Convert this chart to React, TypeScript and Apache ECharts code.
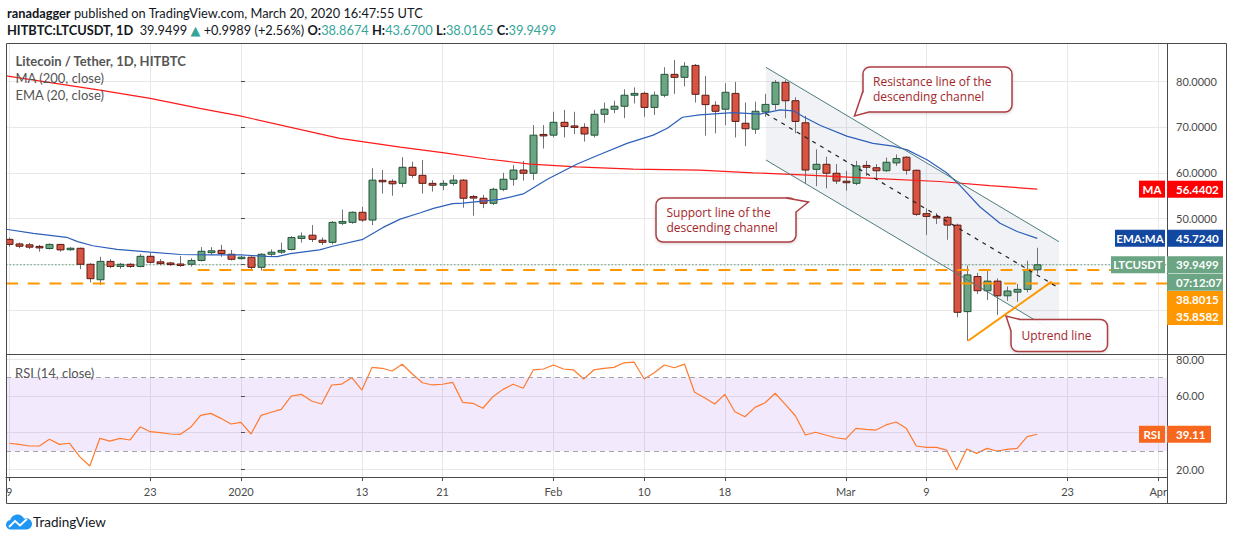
import React, { useEffect, useRef } from "react";
import * as echarts from "echarts";

const FONT = "Lato, 'Noto Sans', 'DejaVu Sans', sans-serif";
const CALLOUT_FONT = "'Open Sans', 'Noto Sans', sans-serif";

// ---------- data ----------
const candleStartDate = "2019-12-09"; // consecutive daily candles from this date
const opens = [
  45.5, 44.5, 44.3, 43.85, 43.5, 44.4, 43.25, 43.55, 40.07, 36.7, 40.7, 39.6, 40.07, 39.6, 41.8, 40.6, 40.35, 40.07, 40.07, 40.9, 42.6, 43.1, 42.25,
  41.3, 41.6, 39.4, 42.25, 42.7, 43.3, 45.7, 46.4, 45.3, 44.85, 49.0, 49.2, 51.4, 49.7, 58.3, 58.15, 57.7, 61.2, 59.45, 57.7, 57.3, 57.7, 58.4, 54.7,
  54.45, 53.35, 56.4, 58.6, 60.6, 59.9, 68.3, 68.2, 71.0, 70.2, 69.9, 68.2, 72.75, 73.85, 74.5, 76.9, 77.3, 74.25, 76.9, 81.45, 80.8, 83.4, 76.9,
  74.7, 73.85, 77.3, 70.8, 69.5, 73.25, 74.9, 79.7, 75.7, 70.9, 60.75, 61.85, 59.9, 58.1, 57.7, 61.6, 61.1, 60.45, 62.15, 63.4, 60.55, 51.1, 50.5,
  50.3, 48.6, 29.75, 37.4, 34.3, 36.4, 33.2, 34.0, 34.6, 38.8674,
];
const closes = [
  44.4, 44.0, 43.8, 43.75, 44.4, 43.2, 43.55, 40.07, 36.93, 40.7, 39.6, 40.07, 39.6, 41.8, 40.5, 40.2, 40.0, 39.85, 40.9, 42.9, 43.0, 42.4, 41.15,
  41.6, 39.4, 42.25, 42.7, 43.1, 45.9, 46.2, 45.5, 44.85, 49.2, 49.4, 51.4, 49.7, 58.4, 58.1, 57.6, 61.2, 59.45, 57.7, 57.3, 57.7, 58.4, 54.45, 54.6,
  53.35, 56.4, 58.6, 60.6, 59.9, 68.2, 68.1, 71.0, 70.1, 69.9, 68.45, 72.75, 73.85, 74.5, 76.9, 77.3, 74.25, 76.9, 81.45, 80.8, 83.2, 77.1, 74.85,
  73.4, 77.55, 71.2, 69.6, 73.4, 74.9, 79.7, 75.7, 71.2, 60.6, 61.85, 59.9, 58.2, 57.9, 61.5, 61.2, 60.45, 62.3, 63.1, 60.55, 50.95, 50.5, 50.15,
  48.6, 29.6, 37.75, 34.3, 36.4, 33.2, 34.25, 34.6, 38.95, 39.9499,
];
const lows = [
  43.9, 43.55, 43.4, 42.8, 43.3, 42.8, 43.0, 39.0, 36.1, 35.55, 39.2, 39.1, 39.3, 39.4, 40.2, 39.85, 39.7, 39.5, 39.55, 40.7, 42.1, 41.7, 40.9,
  41.1, 38.97, 38.7, 41.8, 42.3, 43.1, 44.8, 44.9, 44.3, 44.4, 48.6, 48.9, 49.3, 48.6, 55.5, 55.0, 56.85, 58.9, 55.5, 55.9, 56.2, 57.2, 52.4, 50.65,
  52.3, 53.0, 56.0, 57.2, 58.3, 58.4, 65.3, 67.7, 67.7, 68.45, 66.8, 67.7, 70.9, 73.0, 71.9, 75.1, 72.2, 72.6, 76.45, 77.2, 78.8, 75.3, 68.1, 68.6,
  70.4, 67.7, 65.8, 68.45, 72.2, 73.7, 71.9, 68.6, 57.55, 57.1, 56.6, 57.55, 56.1, 57.3, 59.3, 58.6, 60.2, 61.5, 59.6, 50.6, 46.45, 48.85, 45.4,
  28.5, 23.4, 33.6, 32.3, 29.0, 32.1, 31.9, 33.95, 38.0165,
];
const highs = [
  45.9, 44.8, 44.7, 44.3, 44.6, 44.5, 43.8, 43.7, 40.3, 41.7, 41.2, 40.35, 40.3, 42.3, 42.7, 41.2, 40.6, 41.9, 41.4, 43.8, 43.8, 44.3, 43.2,
  41.9, 41.8, 42.45, 43.3, 44.8, 46.2, 47.0, 48.6, 45.9, 49.5, 52.0, 51.6, 52.6, 61.0, 60.6, 58.6, 63.4, 62.4, 62.8, 58.4, 58.4, 59.5, 58.6, 55.2,
  55.2, 56.75, 60.0, 61.7, 62.6, 70.4, 70.4, 73.3, 73.7, 73.3, 70.8, 73.7, 75.3, 75.7, 78.2, 78.6, 77.7, 77.7, 83.0, 84.6, 84.1, 83.7, 81.1, 75.6,
  79.5, 79.8, 75.3, 75.5, 77.2, 80.2, 80.2, 76.45, 72.4, 65.1, 63.5, 61.9, 60.45, 62.6, 62.6, 61.9, 63.3, 64.0, 63.6, 60.7, 52.25, 51.2, 50.6, 48.9,
  39.8, 38.2, 38.7, 37.0, 35.2, 35.8, 40.85, 43.67,
];

// indicator lines: [days since 2020-01-01, value]
const emaPoints: [number, number][] = [
  [-23.3, 47.7], [-20.6, 46.8], [-17.3, 45.95], [-16.2, 45.0], [-14.7, 44.1], [-12.3, 43.3], [-9, 42.7], [-6, 42.2], [-3, 42.1], [0, 42.1],
  [2.6, 41.8], [3.6, 41.75], [4.9, 42.4], [7.8, 43.2], [9.1, 44.0], [12.1, 45.5], [14.1, 48.1], [15.8, 49.9], [17.8, 51.3], [19.1, 52.25],
  [21, 53.3], [22, 53.4], [25.7, 54.2], [28, 55.4], [30.4, 58.6], [33.3, 61.85], [35.6, 64.0], [38.3, 66.4], [40.9, 68.2], [42.3, 69.7],
  [43.8, 72.1], [45.5, 72.6], [48.8, 73.1], [51.5, 72.8], [53.5, 73.7], [54.8, 73.5], [55.8, 72.2], [57.5, 70.3], [60.1, 68.0], [62.7, 66.4],
  [64.7, 65.8], [66.1, 65.0], [68.1, 62.8], [70, 60.0], [71.3, 57.3], [73.3, 52.6], [75.3, 49.0], [77, 47.2], [79, 45.724],
];
const maPoints: [number, number][] = [
  [-23.3, 81.1], [-14, 78.0], [-9, 76.2], [-4.1, 74.05], [-0.1, 72.4], [9.8, 67.5], [15.8, 65.6], [20, 64.4], [24.4, 63.0], [28.7, 61.9],
  [33.3, 61.3], [38.9, 60.8], [45.5, 60.6], [50.8, 60.0], [56.2, 59.5], [62.7, 58.8], [69.3, 58.1], [74.3, 57.2], [79, 56.4402],
];
// RSI, one value per candle
const rsiValues = [
  34.2, 33.6, 32.7, 32.7, 36.4, 33.6, 34.2, 26.9, 21.8, 36.9, 35.4, 36.9, 36.0, 43.2, 40.5, 40.0, 39.25, 39.1, 42.9, 49.4, 50.5, 47.8, 44.7,
  45.6, 39.25, 49.4, 51.1, 52.7, 60.0, 60.9, 57.25, 55.6, 66.0, 66.5, 70.0, 63.25, 75.6, 75.1, 73.6, 77.3, 72.0, 67.2, 66.0, 66.4, 67.45, 56.5,
  56.0, 53.3, 59.6, 63.6, 66.4, 64.2, 74.2, 74.7, 76.9, 74.7, 74.2, 69.25, 74.2, 75.1, 75.6, 78.1, 78.5, 69.25, 72.7, 76.9, 75.4, 77.4, 62.0,
  59.05, 55.6, 60.9, 51.4, 48.7, 53.8, 56.3, 61.5, 55.45, 49.2, 38.7, 40.2, 38.7, 37.2, 36.5, 42.35, 41.8, 41.4, 44.2, 45.8, 42.35, 32.7, 32.0,
  32.0, 30.5, 19.6, 31.1, 28.7, 31.4, 30.0, 30.9, 31.4, 37.8, 39.11,
];

const tickDays = [-23, -9, 0, 12, 20, 31, 40, 48, 60, 68, 82, 91];
const tickLabels = ["9", "23", "2020", "13", "21", "Feb", "10", "18", "Mar", "9", "23", "Apr"];
const priceTicks = [30, 40, 50, 60, 70, 80];
const priceLabels = [50, 60, 70, 80]; // 30 and 40 sit behind the price tags
const rsiTicks = [20, 40, 60, 80];
const rsiLabels = [20, 60, 80]; // 40 sits behind the RSI tag

// drawings (days since 2020-01-01, price)
const channelUpper: [number, number][] = [[52.08, 82.98], [81.15, 44.99]];
const channelLower: [number, number][] = [[52.08, 62.79], [81.15, 24.79]];
const channelMid: [number, number][] = [[52.08, 72.9], [81.15, 34.9]];
const uptrend: [number, number][] = [[72.15, 23.4], [80.43, 36.3]];
const levelUpper = 38.8015;
const levelUpperStart = -4.3;
const levelLower = 35.8582;
const lastPrice = 39.9499;
const lastMA = 56.4402;
const lastEMA = 45.724;
const lastRSI = 39.11;

const X_MIN = -23.31;
const X_MAX = 91.87;

const CLOUD_D =
  "M5,15 C2.2,15 0,12.9 0,10.2 C0,7.7 1.9,5.7 4.3,5.5 C5.2,2.3 8.1,0 11.5,0 C14.4,0 16.9,1.7 18.1,4.2 C18.8,3.9 19.6,3.7 20.4,3.7 C23.5,3.7 26,6.2 26,9.3 C26,12.5 23.5,15 20.4,15 Z";
echarts.graphic.registerShape("tvcloud", echarts.graphic.extendPath(CLOUD_D, {}));

const DAY0 = Date.UTC(2020, 0, 1);
const startDay = Math.round((Date.parse(candleStartDate) - DAY0) / 86400000);

function lineSeries(data: any[], color: string, width: number, type: any, z: number, xi = 0, yi = 0) {
  return {
    type: "line",
    data,
    xAxisIndex: xi,
    yAxisIndex: yi,
    symbol: "none",
    showSymbol: false,
    silent: true,
    z,
    lineStyle: { color, width, type },
  };
}

export default function App() {
  const ref = useRef<HTMLDivElement>(null);
  useEffect(() => {
    if (!ref.current) return;
    const chart = echarts.init(ref.current, undefined, { renderer: "svg", width: 1234, height: 541 });

    const candleData = opens.map((o, i) => [startDay + i, o, closes[i], lows[i], highs[i]]);
    const rsiData = rsiValues.map((v, i) => [startDay + i, v]);

    const gridCommon = { containLabel: false, outerBoundsMode: "none" };
    const splitLine = { show: true, lineStyle: { color: "#e8e8e8", width: 1 } };

    const option: any = {
      animation: false,
      backgroundColor: "#ffffff",
      textStyle: { fontFamily: FONT },
      grid: [
        { ...gridCommon, left: 6, top: 43, width: 1161, height: 311.5 },
        { ...gridCommon, left: 6, top: 355, width: 1161, height: 122 },
      ],
      xAxis: [
        {
          type: "value",
          gridIndex: 0,
          min: X_MIN,
          max: X_MAX,
          axisLine: { show: false },
          axisTick: { show: false, customValues: tickDays },
          axisLabel: { show: false, customValues: tickDays },
          splitLine,
        },
        {
          type: "value",
          gridIndex: 1,
          min: X_MIN,
          max: X_MAX,
          axisLine: { show: true, lineStyle: { color: "#4a4a4a", width: 1 } },
          axisTick: { show: true, length: 4, customValues: tickDays, lineStyle: { color: "#4a4a4a" } },
          axisLabel: {
            customValues: tickDays,
            margin: 9,
            color: "#4a4a4a",
            fontSize: 11,
            fontFamily: FONT,
            formatter: (v: number) => {
              const k = tickDays.indexOf(Math.round(v));
              return k >= 0 ? tickLabels[k] : "";
            },
          },
          splitLine,
        },
      ],
      yAxis: [
        {
          type: "value",
          gridIndex: 0,
          position: "right",
          min: 20.41,
          max: 88.28,
          axisLine: { show: false },
          axisTick: { show: true, length: 4, customValues: priceTicks, lineStyle: { color: "#4a4a4a" } },
          axisLabel: {
            customValues: priceLabels,
            margin: 9,
            color: "#4a4a4a",
            fontSize: 11,
            fontFamily: FONT,
            formatter: (v: number) => v.toFixed(4),
          },
          splitLine,
        },
        {
          type: "value",
          gridIndex: 1,
          position: "right",
          min: 15.8,
          max: 82.35,
          axisLine: { show: false },
          axisTick: { show: true, length: 4, customValues: rsiTicks, lineStyle: { color: "#4a4a4a" } },
          axisLabel: {
            customValues: rsiLabels,
            margin: 9,
            color: "#4a4a4a",
            fontSize: 11,
            fontFamily: FONT,
            formatter: (v: number) => v.toFixed(2),
          },
          splitLine,
        },
      ],
      series: [
        // channel fill
        {
          type: "custom",
          xAxisIndex: 0,
          yAxisIndex: 0,
          z: 1,
          silent: true,
          clip: true,
          data: [[channelUpper[0][0], channelUpper[0][1]]],
          renderItem: (_p: any, api: any) => {
            const pts = [channelUpper[0], channelUpper[1], channelLower[1], channelLower[0]].map((q) => api.coord(q));
            return { type: "polygon", shape: { points: pts }, style: { fill: "rgba(125,135,160,0.11)" } };
          },
        },
        // last price dotted line
        lineSeries([[X_MIN, lastPrice], [X_MAX, lastPrice]], "#5c9c7a", 1, [1.5, 2], 2),
        // candles
        {
          type: "custom",
          xAxisIndex: 0,
          yAxisIndex: 0,
          z: 3,
          silent: true,
          clip: true,
          encode: { x: 0, y: [1, 2, 3, 4] },
          data: candleData,
          renderItem: (_p: any, api: any) => {
            const d = api.value(0);
            const o = api.value(1);
            const c = api.value(2);
            const l = api.value(3);
            const h = api.value(4);
            const po = api.coord([d, o]);
            const pc = api.coord([d, c]);
            const pl = api.coord([d, l]);
            const ph = api.coord([d, h]);
            const bw = Math.max(3, Math.round(api.size([1, 0])[0] * 0.66));
            const xc = Math.round(po[0]) + 0.5;
            const up = c >= o;
            let top = Math.min(po[1], pc[1]);
            let hh = Math.abs(po[1] - pc[1]);
            if (hh < 1.5) {
              top = (po[1] + pc[1]) / 2 - 0.75;
              hh = 1.5;
            }
            return {
              type: "group",
              children: [
                { type: "line", shape: { x1: xc, y1: ph[1], x2: xc, y2: pl[1] }, style: { stroke: "#737375", lineWidth: 1 } },
                {
                  type: "rect",
                  shape: { x: xc - bw / 2, y: top, width: bw, height: hh },
                  style: { fill: up ? "#6ba583" : "#d75442", stroke: up ? "#225437" : "#5b1a13", lineWidth: 1 },
                },
              ],
            };
          },
        },
        lineSeries(maPoints, "#ff1a1a", 1.2, "solid", 4),
        lineSeries(emaPoints, "#2d5fbb", 1.2, "solid", 4),
        lineSeries([[levelUpperStart, levelUpper], [X_MAX, levelUpper]], "#ff9800", 2, [12, 9.7], 5),
        lineSeries([[X_MIN, levelLower], [X_MAX, levelLower]], "#ff9800", 2, [12, 9.7], 5),
        lineSeries(channelUpper, "#4d7c7c", 1, "solid", 6),
        lineSeries(channelLower, "#4d7c7c", 1, "solid", 6),
        lineSeries(channelMid, "#222222", 1.2, [4, 5], 6),
        lineSeries(uptrend, "#ff9800", 2, "solid", 6),
        // RSI
        {
          type: "line",
          xAxisIndex: 1,
          yAxisIndex: 1,
          data: rsiData,
          symbol: "none",
          showSymbol: false,
          silent: true,
          z: 3,
          lineStyle: { color: "#ff7a2e", width: 1.2 },
          markArea: {
            silent: true,
            itemStyle: { color: "rgba(160,70,230,0.12)" },
            data: [[{ yAxis: 30 }, { yAxis: 70 }]],
          },
          markLine: {
            silent: true,
            symbol: "none",
            label: { show: false },
            lineStyle: { color: "#a3a3ad", type: [5, 4], width: 1 },
            data: [{ yAxis: 30 }, { yAxis: 70 }],
          },
        },
      ],
    };
    chart.setOption(option);

    const py = (v: number, yi: number) => chart.convertToPixel({ yAxisIndex: yi } as any, v) as number;

    const txt = (x: number, y: number, text: string, extra: any = {}, z = 80) => ({
      type: "text",
      x,
      y,
      z,
      silent: true,
      style: {
        text,
        fontFamily: FONT,
        fontSize: 13,
        fill: "#4e4e4e",
        align: "left",
        textAlign: "left",
        verticalAlign: "middle",
        textVerticalAlign: "middle",
        ...extra,
      },
    });

    const tag = (x: number, yc: number, w: number, color: string, text: string, center = true, h = 17) => [
      { type: "rect", z: 90, silent: true, shape: { x, y: yc - h / 2, width: w, height: h }, style: { fill: color } },
      txt(center ? x + w / 2 : x + 9, yc, text, {
        fill: "#ffffff",
        fontWeight: "bold",
        fontSize: 11.5,
        align: center ? "center" : "left",
        textAlign: center ? "center" : "left",
      }, 91),
    ];

    const RED = "#ad3f43";
    const calloutText = (lines: string[], tx: number, tyMid: number) => {
      const step = 15.5;
      const y0 = tyMid - ((lines.length - 1) * step) / 2;
      return lines.map((s, i) =>
        txt(tx, y0 + i * step, s, { fill: "#a3262b", fontFamily: CALLOUT_FONT, fontSize: 12 }, 63)
      );
    };
    const callout = (
      bx: number, by: number, bw: number, bh: number,
      A: number[], tip: number[], B: number[], inner: number[],
      lines: string[], tx: number, ty: number
    ) => [
      {
        type: "rect", z: 60, silent: true,
        shape: { x: bx, y: by, width: bw, height: bh, r: 7 },
        style: { fill: "rgba(255,255,255,0.93)", stroke: RED, lineWidth: 1.5, shadowBlur: 3, shadowColor: "rgba(0,0,0,0.18)", shadowOffsetY: 1 },
      },
      { type: "polygon", z: 61, silent: true, shape: { points: [A, tip, B, inner] }, style: { fill: "#ffffff" } },
      { type: "polyline", z: 62, silent: true, shape: { points: [A, tip, B] }, style: { stroke: RED, lineWidth: 1.5, fill: null } },
      ...calloutText(lines, tx, ty),
    ];

    const yMA = py(lastMA, 0);
    const yEMA = py(lastEMA, 0);
    const yLast = py(lastPrice, 0);
    const yRSI = py(lastRSI, 1);

    const graphic: any[] = [
      // frame
      { type: "rect", z: 40, silent: true, shape: { x: 6.5, y: 43.5, width: 1220, height: 460 }, style: { fill: null, stroke: "#4a4a4a", lineWidth: 1 } },
      { type: "line", z: 40, silent: true, shape: { x1: 6, y1: 354.5, x2: 1227, y2: 354.5 }, style: { stroke: "#4a4a4a", lineWidth: 1 } },
      { type: "line", z: 40, silent: true, shape: { x1: 1167.5, y1: 43, x2: 1167.5, y2: 504 }, style: { stroke: "#4a4a4a", lineWidth: 1 } },
      // header
      txt(7, 12.5, "{b|ranadagger} published on TradingView.com, March 20, 2020 16:47:55 UTC", {
        fill: "#131722",
        fontSize: 12.8,
        rich: { b: { fontWeight: "bold", fontSize: 12.8, fontFamily: FONT, fill: "#131722" } },
      }),
      txt(7, 29.5,
        "{b|HITBTC:LTCUSDT, 1D}  39.9499 {g|▲} +0.9989 (+2.56%) {b|O:}{g|38.8674} {b|H:}{g|43.6700} {b|L:}{g|38.0165} {b|C:}{g|39.9499}",
        {
          fill: "#131722",
          fontSize: 12.8,
          rich: {
            b: { fontWeight: "bold", fontSize: 12.8, fontFamily: FONT, fill: "#131722" },
            g: { fontSize: 12.8, fontFamily: FONT, fill: "#35a598" },
          },
        }),
      // legends
      txt(15.5, 61, "Litecoin / Tether, 1D, HITBTC", { fontWeight: "bold", fill: "#555555" }),
      txt(15.5, 78, "MA (200, close)", { fill: "#555555" }),
      txt(15.5, 94.5, "EMA (20, close)", { fill: "#555555" }),
      txt(15, 373, "RSI (14, close)", { fill: "#555555" }),
      // callouts
      ...callout(863, 67, 149, 45, [863, 91], [854.5, 116], [869, 112], [868, 104], ["Resistance line of the", "descending channel"], 873, 89),
      ...callout(656, 198, 140, 44, [786, 198], [808.5, 202], [796, 212], [789, 205], ["Support line of the", "descending channel"], 666.5, 220),
      ...callout(1011, 319.5, 96.5, 32, [1020, 319.5], [1006, 316], [1011, 331], [1017, 326], ["Uptrend line"], 1021.5, 335),
      // right axis tags
      ...tag(1139, yMA, 26, "#ff0000", "MA"),
      ...tag(1167, yMA, 56, "#ff0000", "56.4402", false),
      ...tag(1115, yEMA, 50, "#1248a0", "EMA:MA"),
      ...tag(1167, yEMA, 56, "#1248a0", "45.7240", false),
      ...tag(1111, yLast, 54, "#6ba583", "LTCUSDT"),
      ...tag(1167, yLast, 56, "#6ba583", "39.9499", false),
      ...tag(1167, yLast + 17.5, 56, "#6ba583", "07:12:07", false),
      { type: "rect", z: 90, silent: true, shape: { x: 1167, y: yLast + 26.3, width: 56, height: 34 }, style: { fill: "#ff9800" } },
      txt(1176, yLast + 34.5, "38.8015", { fill: "#ffffff", fontWeight: "bold", fontSize: 11.5 }, 91),
      txt(1176, yLast + 51.5, "35.8582", { fill: "#ffffff", fontWeight: "bold", fontSize: 11.5 }, 91),
      ...tag(1139, yRSI, 26, "#f7671d", "RSI"),
      ...tag(1167, yRSI, 44, "#f7671d", "39.11", false),
      // TradingView logo
      { type: "tvcloud", z: 80, silent: true, x: 6, y: 514.5, scaleX: 1, scaleY: 1, style: { fill: "#2196f3" } },
      {
        type: "polyline", z: 81, silent: true,
        shape: { points: [[9, 527], [15, 521], [20, 525.5], [27, 519]] },
        style: { stroke: "#ffffff", lineWidth: 1.8, fill: null },
      },
      txt(33, 522, "TradingView", { fill: "#131722", fontSize: 13.5 }),
    ];

    chart.setOption({ graphic });

    return () => {
      chart.dispose();
    };
  }, []);

  return (
    <div
      ref={ref}
      style={{ position: "absolute", left: 0, top: 0, width: 1234, height: 541, background: "#ffffff" }}
    />
  );
}
